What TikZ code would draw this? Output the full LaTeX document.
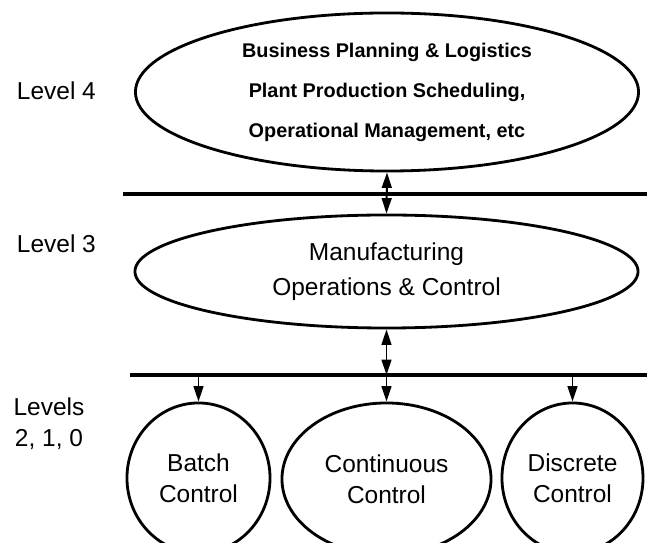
\documentclass[tikz,border=0pt]{standalone}
\usepackage{fontspec}
\setmainfont{Liberation Sans}
\usetikzlibrary{shapes.geometric,arrows.meta}

\begin{document}
\begin{tikzpicture}[x=0.025cm,y=-0.025cm,
    blob/.style={draw,ellipse,line width=2pt,inner sep=0pt,align=center},
    bus/.style={line width=2.3pt},
    link/.style={line width=1.4pt,-{Triangle[length=11pt,width=7pt]}},
    duplex/.style={line width=1.4pt,{Triangle[length=11pt,width=7pt]}-{Triangle[length=11pt,width=7pt]}},
    lvl/.style={font=\fontsize{17.4}{22}\selectfont,align=center}]
          \useasboundingbox (0,0) rectangle (647,543);
          \clip (0,0) rectangle (647,543);
          % levels
          \node[lvl,anchor=west] (lv4) at (12,91) {Level 4};
          \node[lvl,anchor=west] (lv3) at (12,243.5) {Level 3};
          \node[lvl] (lv210) at (49,423.5) {Levels\\2, 1, 0};
          % ellipses
          \node[blob,minimum width=12.575cm,minimum height=3.95cm,
                font=\bfseries\fontsize{14.1}{28.5}\selectfont] (plan) at (387,92)
                {Business Planning \& Logistics\\Plant Production Scheduling,\\Operational Management, etc};
          \node[blob,minimum width=12.575cm,minimum height=2.825cm,
                font=\fontsize{17.4}{24.8}\selectfont] (mom) at (386.5,271.5)
                {Manufacturing\\Operations \& Control};
          \node[blob,lvl,minimum width=3.575cm,minimum height=3.75cm] (batch) at (198.5,478) {Batch\\Control};
          \node[blob,lvl,minimum width=5.225cm,minimum height=3.8cm] (cont) at (386.5,479) {Continuous\\Control};
          \node[blob,lvl,minimum width=3.525cm,minimum height=3.75cm] (disc) at (572.5,478) {Discrete\\Control};
          % buses
          \coordinate (bus1w) at (123,194);
          \coordinate (bus1e) at (650,194);
          \coordinate (bus2w) at (130,375);
          \coordinate (bus2e) at (650,375);
          \draw[bus] (bus1w)--(bus1e);
          \draw[bus] (bus2w)--(bus2e);
          % arrows
          \draw[duplex] (plan.south)--(mom.north);
          \draw[duplex] (mom.south)--(mom.south |- bus2w);
          \draw[link] (batch.north |- bus2w)--(batch.north);
          \draw[link] (cont.north |- bus2w)--(cont.north);
          \draw[link] (disc.north |- bus2w)--(disc.north);
        \end{tikzpicture}
\end{document}
